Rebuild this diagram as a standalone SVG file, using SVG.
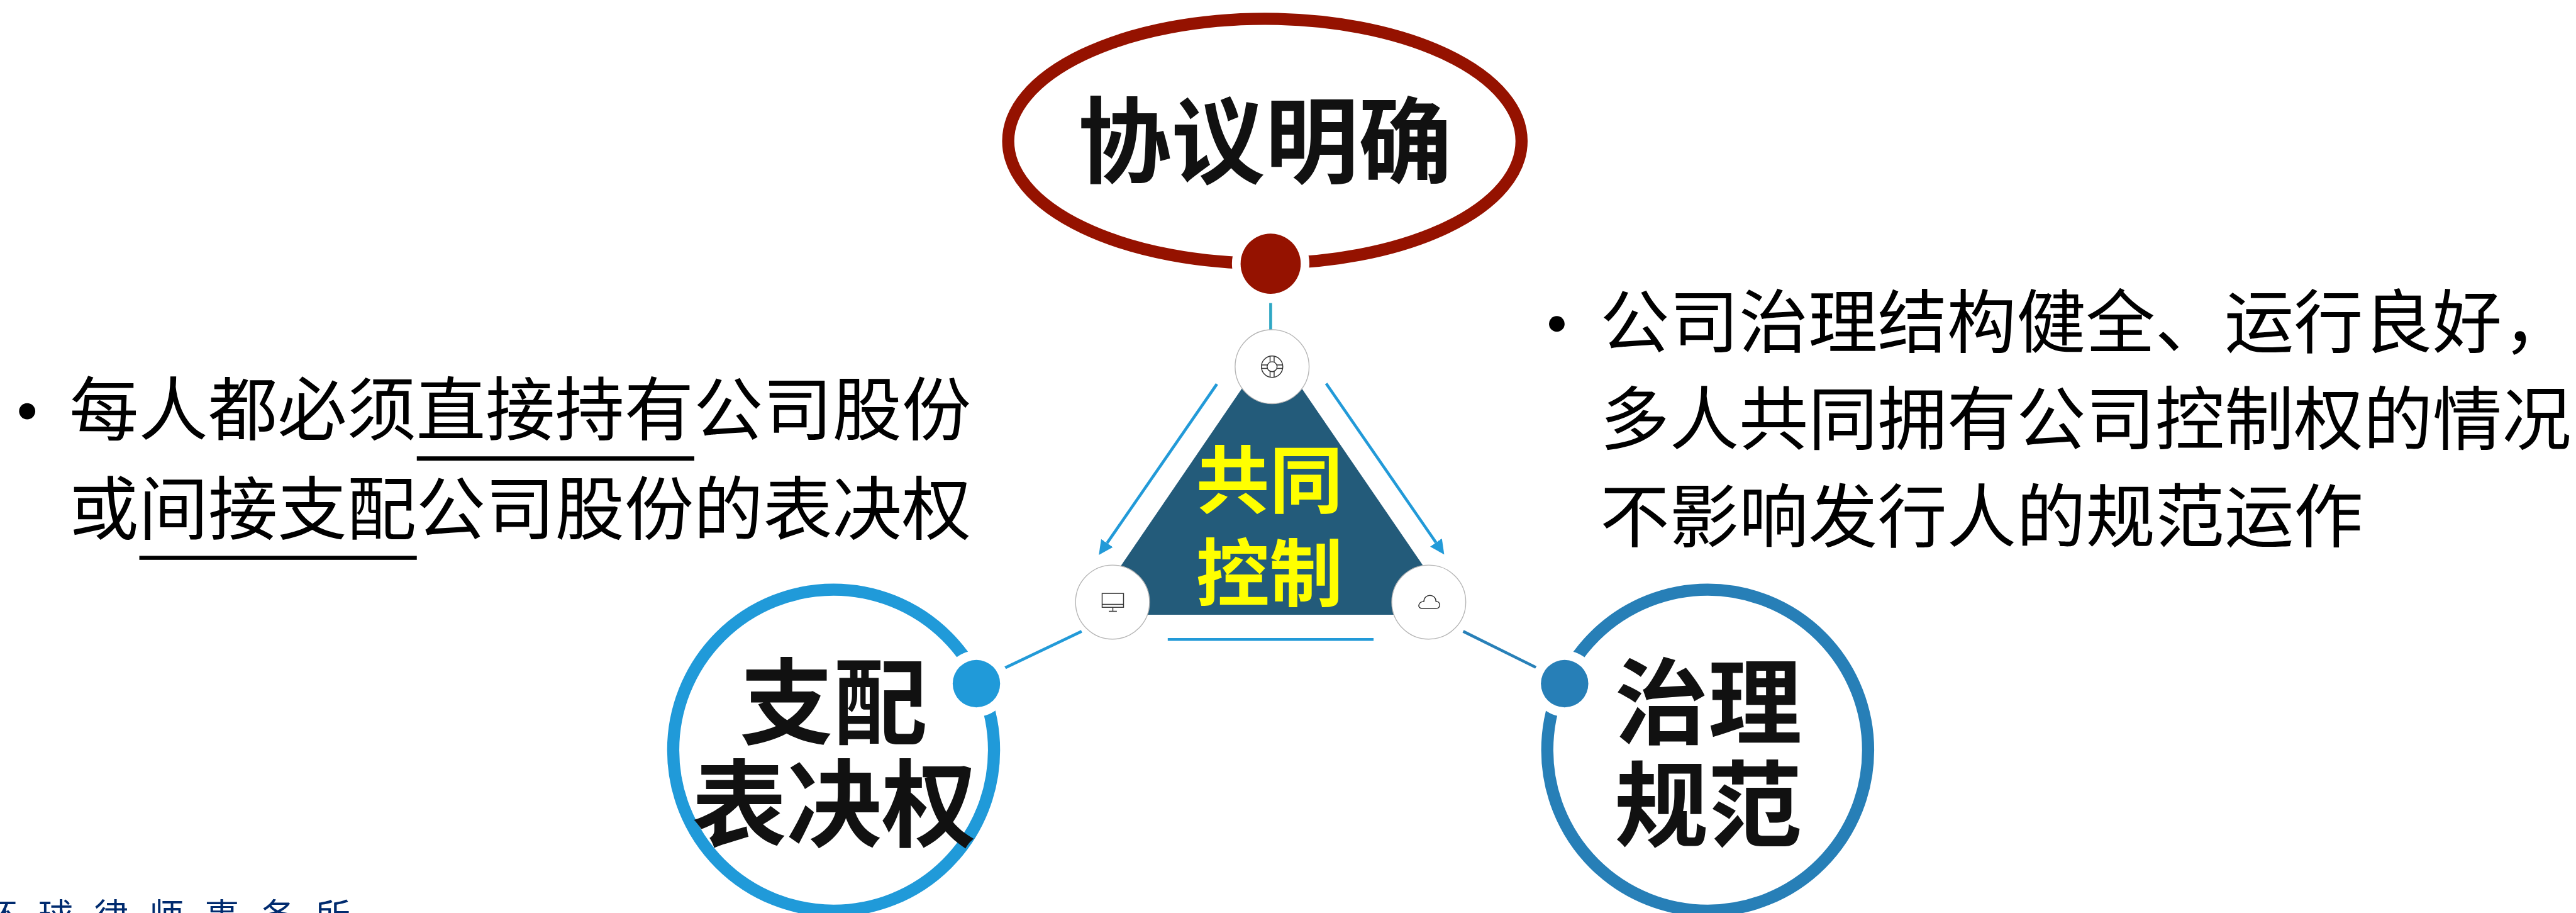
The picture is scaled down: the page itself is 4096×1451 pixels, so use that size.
<svg xmlns="http://www.w3.org/2000/svg" width="4096" height="1451" viewBox="0 0 4096 1451">
<style>
text{font-family:"Noto Sans CJK SC","Noto Sans",sans-serif}
.h{font-size:162px;font-weight:700;fill:#111;text-anchor:middle}
.c{font-size:127px;font-weight:700;fill:#ff0;text-anchor:middle}
.b{font-size:120px;fill:#000}
.f{font-size:60px;fill:#002b6f;letter-spacing:36px}
.ring{fill:none;stroke-width:21}
.hub{fill:#fff;stroke:#b5b5b5;stroke-width:1.5}
.ic{fill:none;stroke:#333;stroke-width:1.6}
.w{fill:#fff}
.l{fill:none;stroke-width:5}
</style>
<defs>
<marker id="ah" markerUnits="userSpaceOnUse" markerWidth="26" markerHeight="26" refX="0" refY="13" orient="auto" viewBox="0 0 26 26"><path d="M0,0.6L25,13L0,25.4z" fill="#229ad8"/></marker>
</defs>
<g transform="scale(0.91921)">
<rect width="4456" height="1579" fill="#fff"/>
<g id="core"><path d="M2200,596L2520,1063L1881,1063z" fill="#235b7a"/></g>
<g id="connectors">
<path class="l" d="M2198,524V572" stroke="#2ea7c4"/>
<path class="l" d="M2105,664L1915,939" stroke="#229ad8" marker-end="url(#ah)"/>
<path class="l" d="M2294,663L2484,938" stroke="#229ad8" marker-end="url(#ah)"/>
<path class="l" d="M2020,1105.5H2376" stroke="#229ad8"/>
<path class="l" d="M1871,1091.6L1738,1155" stroke="#229ad8"/>
<path class="l" d="M2531,1091.6L2657,1154" stroke="#2880b8"/>
</g>
<g id="hub-top"><circle class="hub" cx="2200.5" cy="634" r="64"/>
<g class="ic"><circle cx="2200.5" cy="634" r="18.5"/><circle cx="2200.5" cy="634" r="8.6"/><path d="M2197,616V626M2204,616V626M2197,642V652M2204,642V652M2182,631H2192M2182,637H2192M2209,631H2219M2209,637H2219"/></g></g>
<g id="hub-left"><circle class="hub" cx="1924.5" cy="1041" r="64"/>
<g class="ic"><rect x="1906.5" y="1026" width="37" height="24"/><path d="M1906.5,1045H1943.5M1925,1050V1057M1918,1057H1932"/></g></g>
<g id="hub-right"><circle class="hub" cx="2471.5" cy="1041" r="64"/>
<path class="ic" d="M2460,1052H2484C2493,1052 2492,1039 2484,1040C2484,1026 2463,1026 2463,1040C2453,1040 2451,1052 2460,1052z"/></g>
<g id="core-label"><text class="c" x="2196" y="877">共同</text><text class="c" x="2196" y="1038">控制</text></g>
<g id="node-top"><ellipse class="ring" cx="2188" cy="244" rx="444" ry="211.5" stroke="#951200"/><circle class="w" cx="2198" cy="456" r="67"/><circle cx="2198" cy="456" r="52" fill="#951200"/><text class="h" x="2188" y="304">协议明确</text></g>
<g id="node-left"><circle class="ring" cx="1442" cy="1297" r="277.5" stroke="#209ad9"/><circle class="w" cx="1689" cy="1182" r="57"/><circle cx="1689" cy="1182" r="41" fill="#209ad9"/><text class="h" x="1442" y="1274">支配</text><text class="h" x="1443" y="1451" style="font-size:164px">表决权</text></g>
<g id="node-right"><circle class="ring" cx="2954" cy="1297" r="277.5" stroke="#277fb7"/><circle class="w" cx="2706.5" cy="1182" r="57"/><circle cx="2706.5" cy="1182" r="41" fill="#277fb7"/><text class="h" x="2955" y="1274">治理</text><text class="h" x="2955" y="1451">规范</text></g>
<g id="text-left"><circle cx="47" cy="711" r="14"/><text class="b" x="120" y="752">每人都必须直接持有公司股份</text><text class="b" x="120" y="924">或间接支配公司股份的表决权</text><rect x="721" y="789" width="480" height="7.5"/><rect x="241" y="961" width="480" height="7"/></g>
<g id="text-right"><circle cx="2693" cy="560" r="13.5"/><text class="b" x="2768" y="601">公司治理结构健全、运行良好<tspan dx="2">，</tspan></text><text class="b" x="2768" y="768">多人共同拥有公司控制权的情况</text><text class="b" x="2768" y="937">不影响发行人的规范运作</text></g>
<g id="footer"><text class="f" x="-30" y="1606">环球律师事务所</text></g>
</g>
</svg>
